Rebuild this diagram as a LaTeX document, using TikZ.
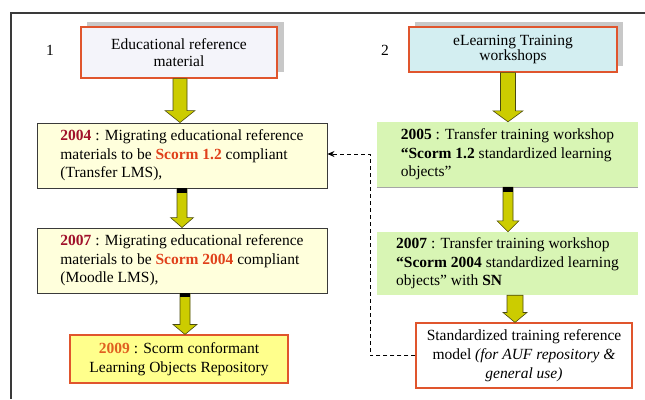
\documentclass[tikz,border=0pt]{standalone}
\usepackage{fontspec}
\setmainfont{Liberation Serif}
\usetikzlibrary{arrows.meta,calc,backgrounds}
\definecolor{lav}{HTML}{F4F4FA}
\definecolor{cyanbox}{HTML}{D3EEF1}
\definecolor{ylight}{HTML}{FFFFDC}
\definecolor{ystrong}{HTML}{FFFF8C}
\definecolor{greenbox}{HTML}{D8F5B4}
\definecolor{ored}{HTML}{E0552D}
\definecolor{darkb}{HTML}{3A3A3A}
\definecolor{arrowfill}{HTML}{CCCC00}
\definecolor{arrowline}{HTML}{4A4A10}
\definecolor{yrred}{HTML}{A0102A}
\definecolor{scormc}{HTML}{E0401A}
\definecolor{orangeyr}{HTML}{E06020}
\definecolor{shadowc}{HTML}{C8C8C8}
\newcommand\barrow[7]{%
  \path let \p1=(#1.south), \p2=(#2.north) in
    [fill=arrowfill, draw=arrowline, line width=0.6pt]
    ({#3pt-#4pt},\y1) -- ({#3pt+#4pt},\y1) -- ({#3pt+#4pt},{\y2+#6pt})
    -- ({#3pt+#5pt},{\y2+#6pt}) -- (#3pt,\y2) -- ({#3pt-#5pt},{\y2+#6pt})
    -- ({#3pt-#4pt},{\y2+#6pt}) -- cycle;
  \ifdim #7pt>0pt
  \path let \p1=(#1.south) in
    [fill=black] ({#3pt-#4pt},\y1) rectangle ({#3pt+#4pt},{\y1-#7pt});
  \fi
}
\begin{document}
\begin{tikzpicture}[x=1pt,y=-1pt,
  every node/.style={font=\fontsize{15.5}{18.5}\selectfont, inner sep=0pt},
  boxl/.style={draw=darkb, line width=0.9pt, fill=ylight, align=left},
  boxg/.style={fill=greenbox, align=left},
  boxo/.style={draw=ored, line width=1.1pt, align=center},
  numlab/.style={font=\fontsize{15.5}{17}\selectfont}]
\useasboundingbox (0,0) rectangle (645,399);
% frame
\draw[line width=1.6pt, darkb] (645,13) -- (11,13) -- (11,399);
% header boxes
\node[boxo, fill=lav, minimum width=196pt, minimum height=51pt,
      font=\fontsize{15.5}{16.5}\selectfont] (b1) at (179,52.5) {Educational reference\\material};
\node[boxo, fill=cyanbox, minimum width=208pt, minimum height=45pt,
      font=\fontsize{15.5}{14}\selectfont] (b2) at (513,49.5) {eLearning Training\\workshops};
\node[numlab] (l1) at (50,50) {1};
\node[numlab] (l2) at (385,50) {2};
\begin{scope}[on background layer]
  \fill[shadowc] ($(b1.south west)+(7,-7)$) rectangle ($(b1.north east)+(6,-4)$);
  \fill[shadowc] ($(b2.south west)+(7,-7)$) rectangle ($(b2.north east)+(5,-4)$);
\end{scope}
% left column
\node[boxl, minimum width=290pt, minimum height=65pt] (n2004) at (182,155.5)
  {{\color{yrred}\textbf{2004}} : Migrating educational reference\\materials to be {\color{scormc}\textbf{Scorm 1.2}} compliant\\(Transfer LMS),};
\node[boxl, minimum width=290pt, minimum height=65pt] (n2007l) at (182,260.5)
  {{\color{yrred}\textbf{2007}} : Migrating educational reference\\materials to be {\color{scormc}\textbf{Scorm 2004}} compliant\\(Moodle LMS),};
\node[boxo, fill=ystrong, minimum width=218pt, minimum height=48pt,
      font=\fontsize{15.5}{19}\selectfont] (n2009) at (179,359)
  {{\color{orangeyr}\textbf{2009}} : Scorm conformant\\Learning Objects Repository};
% right column
\node[boxg, minimum width=261pt, minimum height=65pt] (n2005) at (507.5,154.5)
  {\textbf{2005} : Transfer training workshop\\\textbf{“Scorm 1.2} standardized learning\\objects”};
\draw[gray!70, line width=0.8pt] (n2005.south west) -- (n2005.south east);
\node[boxg, minimum width=261pt, minimum height=63pt] (n2007r) at (507.5,263.5)
  {\textbf{2007} : Transfer training workshop\\\textbf{“Scorm 2004} standardized learning\\objects” with \textbf{SN}};
\node[boxo, fill=white, minimum width=216pt, minimum height=65pt,
      font=\fontsize{15.5}{19}\selectfont] (nstd) at (524,355.5)
  {Standardized training reference\\model \textit{(for AUF repository \&}\\\textit{general use)}};
% block arrows
\barrow{b1}{n2004}{180}{7}{15}{12}{0}
\barrow{n2004}{n2007l}{182}{5}{11.5}{10}{5}
\barrow{n2007l}{n2009}{185}{5}{12}{10}{4}
\barrow{b2}{n2005}{508}{7.5}{15}{11}{0}
\barrow{n2005}{n2007r}{508}{5}{11}{11}{5}
\barrow{n2007r}{nstd}{515}{8}{12}{10}{0}
% dashed feedback connector
\coordinate (c1) at (370,154);
\draw[dashed, line width=0.8pt, dash pattern=on 4pt off 3pt, -{Stealth[length=7pt,width=6pt]}]
  (nstd.west) -| (c1) -- (c1 -| n2004.east);
\end{tikzpicture}
\end{document}
